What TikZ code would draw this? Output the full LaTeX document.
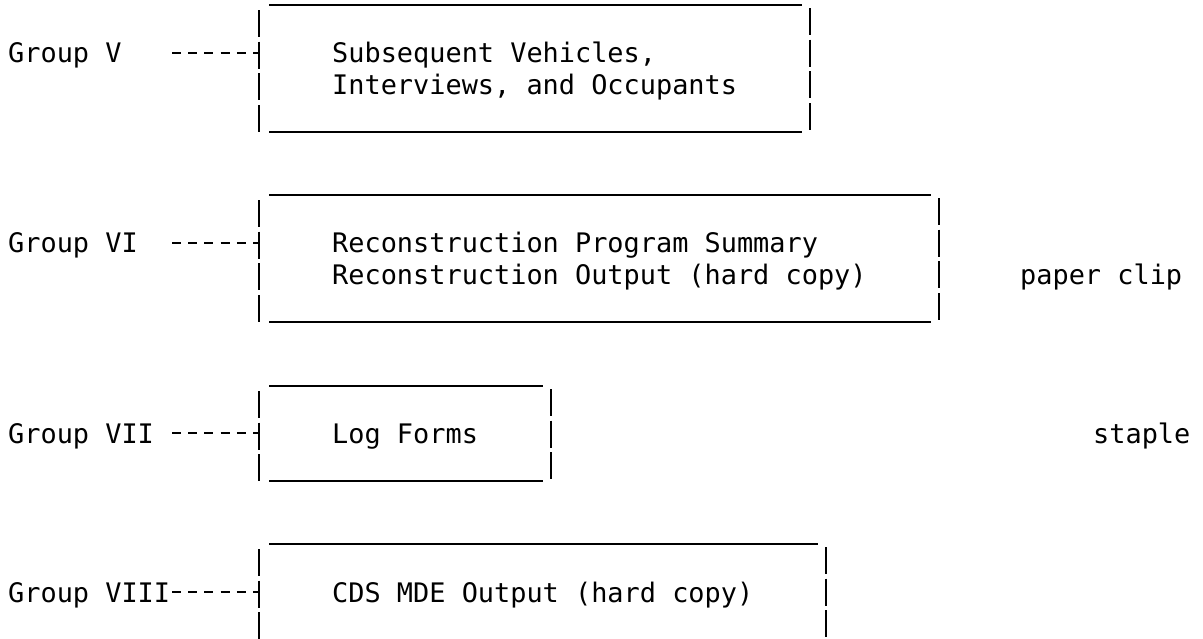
\documentclass[tikz,border=0pt]{standalone}
\usepackage{fontspec}
\setmonofont{DejaVu Sans Mono}
\usepackage{tikz}

\tikzset{
  typed/.style={font=\ttfamily\fontsize{26.9}{30}\selectfont, anchor=base west, inner sep=0pt},
  rule/.style={line width=2pt},
  bar/.style={line width=2pt, dash pattern=on 27pt off 4.7pt},
  leader/.style={line width=2pt, dash pattern=on 9pt off 7.2pt}
}

% typewritten box: left x, right x, top y, bottom y
\newcommand{\typebox}[4]{%
  \draw[rule] (#1+10,#3) -- (#2-8,#3);
  \draw[rule] (#1+10,#4) -- (#2-8,#4);
  \draw[bar] (#1,#3+5) -- (#1,#4);
  \draw[bar] (#2,#3+3) -- (#2,#4+2);
}

\begin{document}
\begin{tikzpicture}[x=1pt,y=-1pt]
  \useasboundingbox (0,0) rectangle (1203,638);
  \foreach \nm/\lab/\yc in {5/V/52.6, 6/VI/242.9, 7/VII/433.3, 8/VIII/592} {
    \node[typed] (g\nm) at (8,\yc+10) {Group \lab};
    \coordinate (d\nm) at (172,\yc);
    \coordinate (b\nm) at (259,\yc);
    \draw[leader] (d\nm) -- (b\nm);
  }
  \typebox{259}{810}{5}{132}
  \typebox{259}{939}{195}{322}
  \typebox{259}{551}{386}{481}
  \draw[rule] (269,544) -- (818,544);
  \draw[bar] (259,549) -- (259,640);
  \draw[bar] (826,547) -- (826,640);
  \node[typed] (t5a) at (332,62.6) {Subsequent Vehicles,};
  \node[typed] (t5b) at (332,94.3) {Interviews, and Occupants};
  \node[typed] (t6a) at (332,252.9) {Reconstruction Program Summary};
  \node[typed] (t6b) at (332,284.6) {Reconstruction Output (hard copy)};
  \node[typed] (t7) at (332,443.3) {Log Forms};
  \node[typed] (t8) at (332,602) {CDS MDE Output (hard copy)};
  \node[typed] (clip) at (1020,284.6) {paper clip};
  \node[typed] (staple) at (1093,443.3) {staple};
\end{tikzpicture}
\end{document}
